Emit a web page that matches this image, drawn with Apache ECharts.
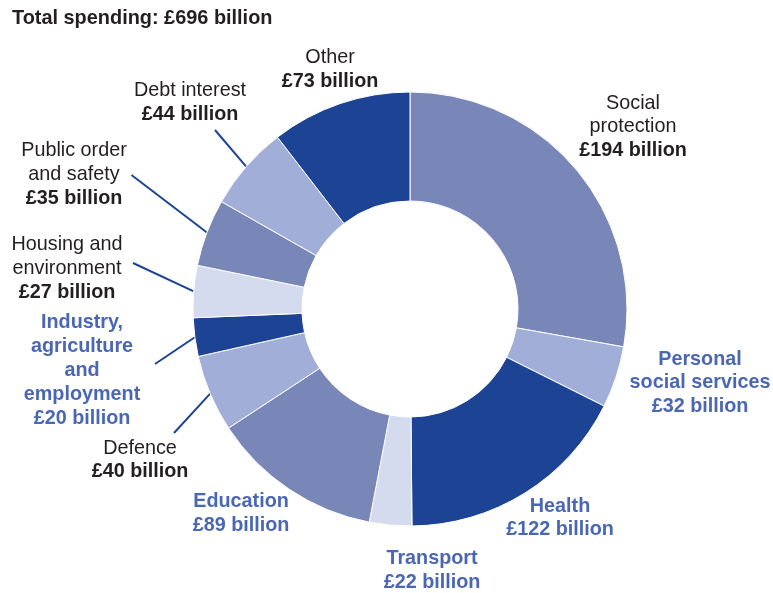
<!DOCTYPE html>
<html>
<head>
<meta charset="utf-8">
<script src="https://cdn.jsdelivr.net/npm/echarts@6/dist/echarts.min.js"></script>
<style>
  html, body { margin: 0; padding: 0; background: #ffffff; }
  #chart { width: 773px; height: 593px; }
</style>
</head>
<body>
<div id="chart"></div>
<script>
// Public spending by function, £ billion
const categories = [
  'Social\nprotection',
  'Personal\nsocial services',
  'Health',
  'Transport',
  'Education',
  'Defence',
  'Industry,\nagriculture\nand\nemployment',
  'Housing and\nenvironment',
  'Public order\nand safety',
  'Debt interest',
  'Other'
];
const spending = [194, 32, 122, 22, 89, 40, 20, 27, 35, 44, 73];
const totalSpending = 696;

// Shade used for each slice, in the same order as the categories
const MID = '#7886b8', LIGHT = '#a1afd8', DARK = '#1d4494', PALE = '#d5dbee';
const sliceColors = [MID, LIGHT, DARK, PALE, MID, LIGHT, DARK, PALE, MID, LIGHT, DARK];
// Categories whose labels are set in bold blue
const blueLabels = [false, true, true, true, true, false, true, false, false, false, false];

// Label placement (centre of each text block) and where its leader line stops
const labelSpots = [
  { x: 633, y: 127 },
  { x: 700, y: 383 },
  { x: 560, y: 518 },
  { x: 432, y: 570.5 },
  { x: 241, y: 513.5 },
  { x: 140, y: 460, lineEnd: [174, 433] },
  { x: 82, y: 370.5, lineEnd: [155, 364] },
  { x: 67, y: 268.5, lineEnd: [133, 263] },
  { x: 74, y: 174.5, lineEnd: [131.5, 175] },
  { x: 190, y: 102.5, lineEnd: [215, 130] },
  { x: 330, y: 69.5 }
];

const CX = 410, CY = 309, R_IN = 108, R_OUT = 217;
const FONT = '"Liberation Sans", Arial, Helvetica, sans-serif';
const FS = 19.8, LH = 23.8;
const TEXT_DARK = '#231f20', TEXT_BLUE = '#4a67b4';

// Point on the outer edge of the ring at the middle of slice i
const sum = spending.reduce((a, b) => a + b, 0);
function sliceEdgePoint(i) {
  let before = 0;
  for (let k = 0; k < i; k++) before += spending[k];
  const mid = (before + spending[i] / 2) / sum * 2 * Math.PI; // clockwise from 12 o'clock
  return [CX + R_OUT * Math.sin(mid), CY - R_OUT * Math.cos(mid)];
}

const pieData = categories.map((name, i) => ({
  name: name,
  value: spending[i],
  itemStyle: { color: sliceColors[i] },
  labelLine: { show: !!labelSpots[i].lineEnd }
}));

function labelText(p) {
  const i = p.dataIndex;
  const value = '£' + spending[i] + ' billion';
  if (blueLabels[i]) return '{b|' + categories[i] + '}\n{b|' + value + '}';
  return '{n|' + categories[i] + '}\n{v|' + value + '}';
}

const chart = echarts.init(document.getElementById('chart'), null, { renderer: 'canvas' });
chart.setOption({
  animation: false,
  backgroundColor: '#ffffff',
  title: {
    text: 'Total spending: £' + totalSpending + ' billion',
    left: 12,
    top: 9,
    padding: 0,
    textStyle: { fontFamily: FONT, fontSize: 19.9, fontWeight: 'bold', color: TEXT_DARK }
  },
  series: [{
    type: 'pie',
    center: [CX, CY],
    radius: [R_IN, R_OUT],
    startAngle: 90,
    clockwise: true,
    avoidLabelOverlap: false,
    silent: true,
    itemStyle: { borderColor: '#ffffff', borderWidth: 1 },
    label: {
      show: true,
      position: 'outside',
      formatter: labelText,
      align: 'center',
      fontFamily: FONT,
      rich: {
        n: { fontFamily: FONT, fontSize: FS, lineHeight: LH, color: TEXT_DARK, align: 'center' },
        v: { fontFamily: FONT, fontSize: FS, lineHeight: LH, color: TEXT_DARK, fontWeight: 'bold', align: 'center' },
        b: { fontFamily: FONT, fontSize: FS, lineHeight: LH, color: TEXT_BLUE, fontWeight: 'bold', align: 'center' }
      }
    },
    labelLine: {
      length: 10,
      length2: 0,
      lineStyle: { color: DARK, width: 2 }
    },
    labelLayout: function (p) {
      const spot = labelSpots[p.dataIndex];
      const out = { x: spot.x, y: spot.y, align: 'center', verticalAlign: 'middle' };
      if (spot.lineEnd) {
        out.labelLinePoints = [sliceEdgePoint(p.dataIndex), spot.lineEnd.slice()];
      }
      return out;
    },
    data: pieData
  }]
});
</script>
</body>
</html>
